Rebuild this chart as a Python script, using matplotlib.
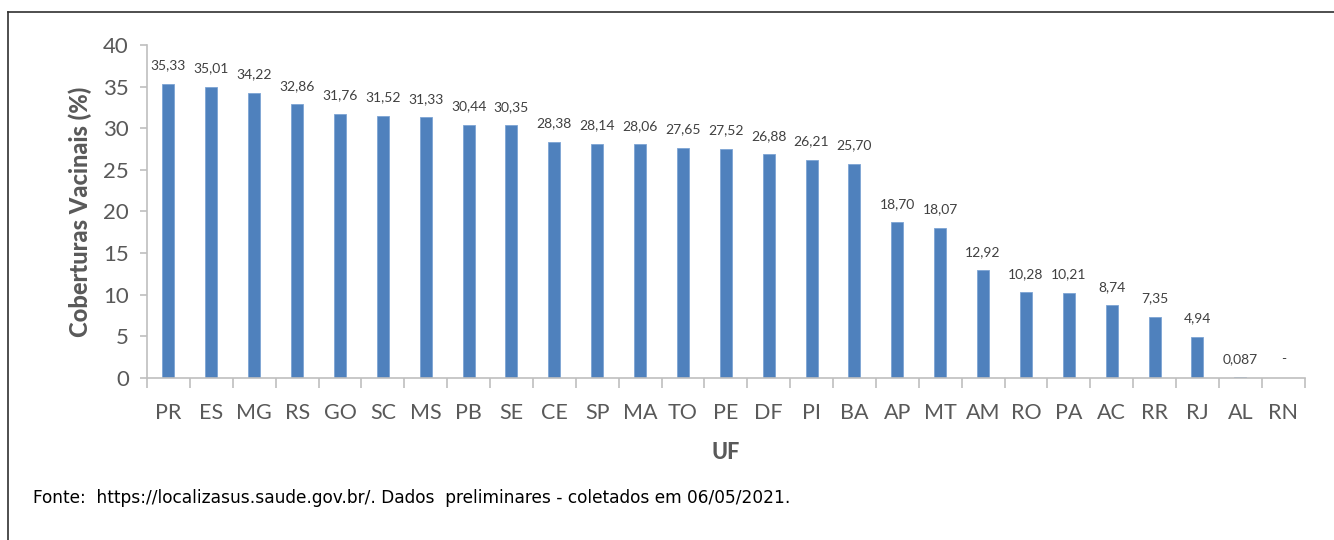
import matplotlib
matplotlib.use("Agg")
import matplotlib.pyplot as plt
from matplotlib.lines import Line2D
import numpy as np

ufs = ["PR", "ES", "MG", "RS", "GO", "SC", "MS", "PB", "SE", "CE", "SP", "MA", "TO", "PE",
       "DF", "PI", "BA", "AP", "MT", "AM", "RO", "PA", "AC", "RR", "RJ", "AL", "RN"]
coberturas = [35.33, 35.01, 34.22, 32.86, 31.76, 31.52, 31.33, 30.44, 30.35, 28.38, 28.14,
              28.06, 27.65, 27.52, 26.88, 26.21, 25.70, 18.70, 18.07, 12.92, 10.28, 10.21,
              8.74, 7.35, 4.94, 0.087, 0.0]
rotulos = ["35,33", "35,01", "34,22", "32,86", "31,76", "31,52", "31,33", "30,44", "30,35",
           "28,38", "28,14", "28,06", "27,65", "27,52", "26,88", "26,21", "25,70", "18,70",
           "18,07", "12,92", "10,28", "10,21", "8,74", "7,35", "4,94", "0,087", "-"]
yticks = [0, 5, 10, 15, 20, 25, 30, 35, 40]

plt.rcParams["font.family"] = ["Lato", "DejaVu Sans"]

fig = plt.figure(figsize=(13.34, 5.40), dpi=100)
ax = fig.add_axes([0.1102, 0.30, 0.8678, 0.6167])

x = np.arange(len(ufs))
ax.bar(x, coberturas, width=0.28, color="#4f81bd", edgecolor="#7da4d4", linewidth=0.6)

for xi, v, lab in zip(x, coberturas, rotulos):
    ax.annotate(lab, (xi, v), xytext=(0, 9), textcoords="offset points",
                ha="center", va="bottom", fontsize=10, color="#404040")

ax.set_xlim(-0.5, len(ufs) - 0.5)
ax.set_ylim(0, 40)
ax.set_yticks(yticks)
ax.set_yticklabels([str(t) for t in yticks], fontsize=16, color="#595959")
ax.set_xticks(x)
ax.set_xticklabels(ufs, fontsize=15.5, color="#595959")
ax.tick_params(axis="x", length=0, pad=18)
ax.tick_params(axis="y", length=5, width=1.2, color="#bfbfbf", pad=8)
ax.set_xticks(np.arange(-0.5, len(ufs), 1), minor=True)
ax.tick_params(axis="x", which="minor", length=7, width=1.2, color="#bfbfbf", direction="out")

for s in ["top", "right"]:
    ax.spines[s].set_visible(False)
for s in ["left", "bottom"]:
    ax.spines[s].set_color("#bfbfbf")
    ax.spines[s].set_linewidth(1.2)

ax.set_ylabel("Coberturas Vacinais (%)", fontsize=17, fontweight="black", color="#595959", labelpad=8)
ax.set_xlabel("UF", fontsize=15.5, fontweight="black", color="#595959", labelpad=14)

fig.text(33 / 1334, 1 - 498 / 540,
         "Fonte:  https://localizasus.saude.gov.br/. Dados  preliminares - coletados em 06/05/2021.",
         fontsize=12.25, family="DejaVu Sans", color="#000000", va="center", ha="left")

# moldura
fig.add_artist(Line2D([8 / 1334, 8 / 1334], [0, 1 - 12 / 540], transform=fig.transFigure,
                      color="#303030", linewidth=1.2))
fig.add_artist(Line2D([8 / 1334, 1], [1 - 12 / 540, 1 - 12 / 540], transform=fig.transFigure,
                      color="#303030", linewidth=1.2))

fig.savefig("out.png", dpi=100)
